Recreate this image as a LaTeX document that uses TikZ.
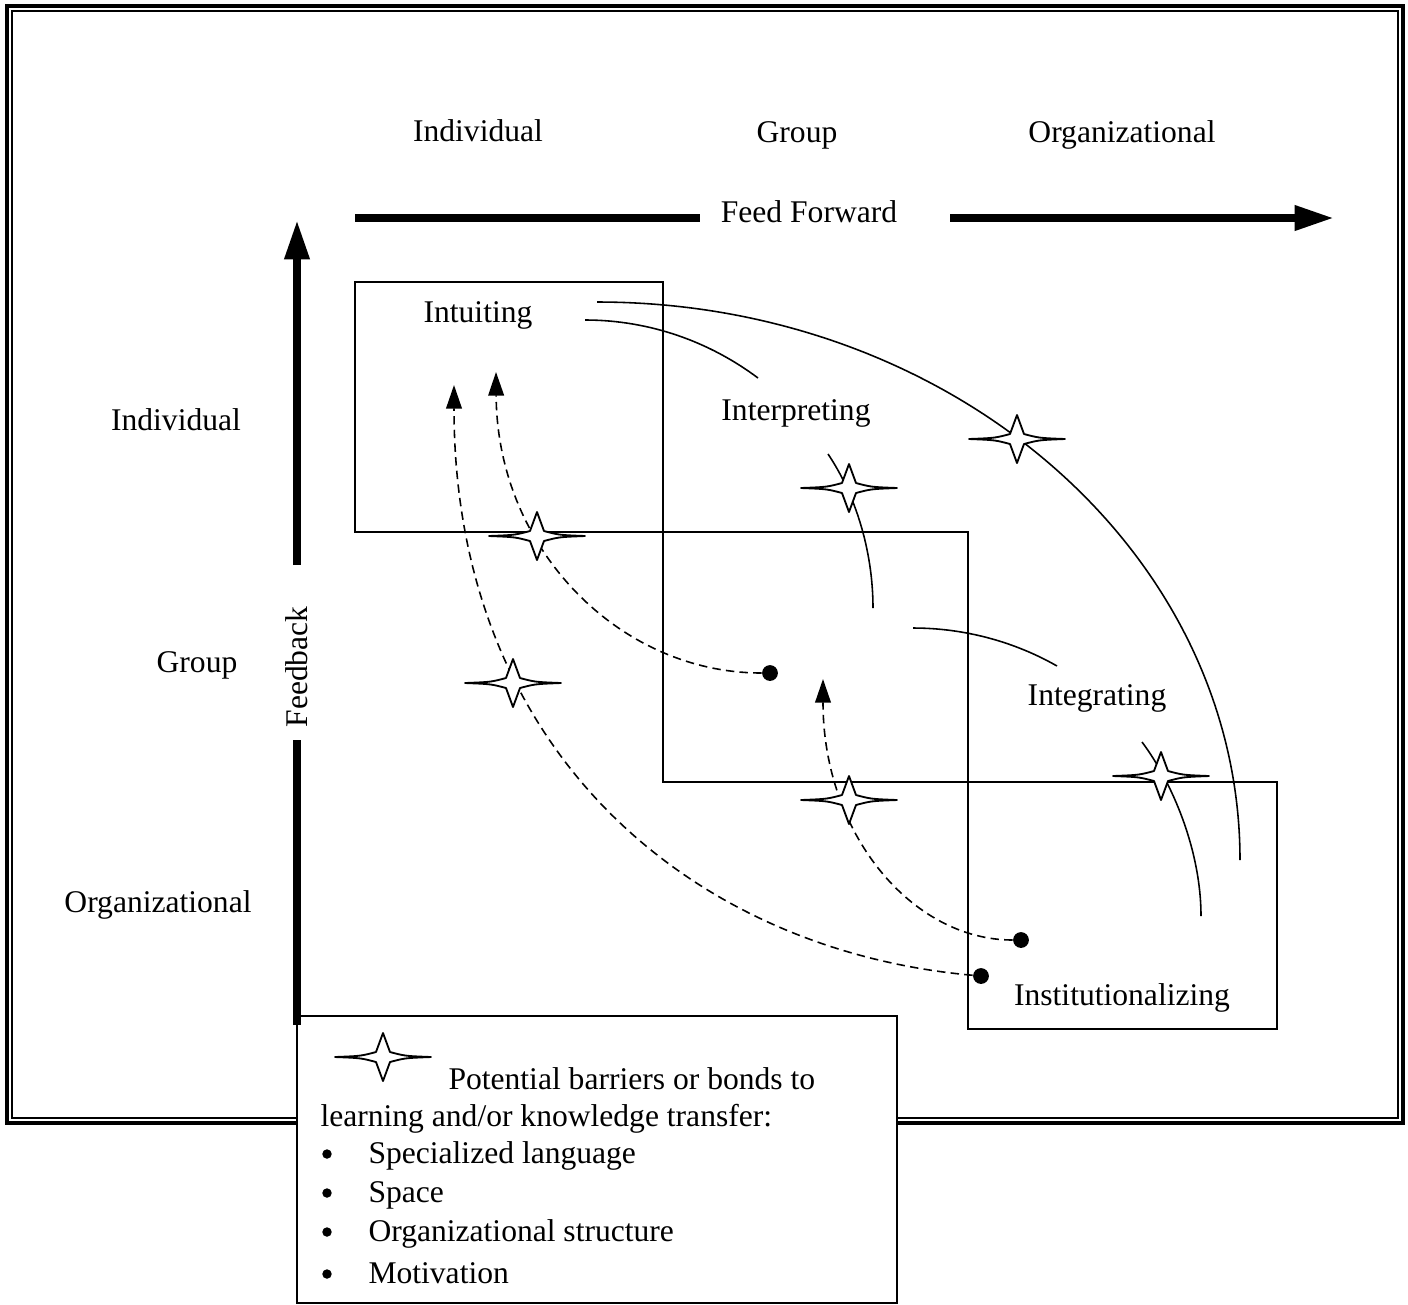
\documentclass[tikz,border=0pt]{standalone}
\usepackage{fontspec}
\setmainfont{Liberation Serif}
\usetikzlibrary{arrows.meta}

\begin{document}
\begin{tikzpicture}[x=0.38pt, y=-0.38pt, font=\fontsize{12pt}{14pt}\selectfont,
  lbl/.style={inner sep=0pt},
  box/.style={line width=0.8pt},
  flow/.style={line width=0.6pt},
  back/.style={line width=0.6pt, dash pattern=on 3.2pt off 2pt, -{Triangle[length=9pt, width=6pt]}},
  bigarrow/.style={line width=3pt},
  bigtip/.style={-{Triangle[length=15pt, width=9pt]}},
  dot/.style={circle, fill, inner sep=0pt, minimum size=6pt},
  barrier/.pic={\filldraw[fill=white, line width=0.7pt, line join=round]
    (0,-24) -- (7,-5) .. controls (22,-1) .. (48,0) .. controls (22,1) .. (7,5)
    -- (0,24) -- (-7,5) .. controls (-22,1) .. (-48,0) .. controls (-22,-1) .. (-7,-5) -- cycle;}]
  % x-coordinate = pixel column, y-coordinate = pixel row (downwards)
  \useasboundingbox (0,0) rectangle (1408,1304);
  \draw[line width=1.5pt] (7,6) rectangle (1403,1123);
  \draw[line width=0.75pt] (12,11) rectangle (1398,1118);
  \draw[box, fill=white] (297,1016) rectangle (897,1303);

  \node[lbl] (colind) at (478,131) {Individual};
  \node[lbl] (colgrp) at (797,135) {Group};
  \node[lbl] (colorg) at (1122,135) {Organizational};
  \node[lbl] (rowind) at (176,420) {Individual};
  \node[lbl] (rowgrp) at (197,665) {Group};
  \node[lbl] (roworg) at (158,905) {Organizational};

  \node[lbl] (ff) at (809,212) {Feed Forward};
  \coordinate (ffstart) at (355,218);
  \coordinate (ffl) at (700,218);
  \coordinate (ffr) at (950,218);
  \coordinate (fftip) at (1334,218);
  \draw[bigarrow] (ffstart) -- (ffl);
  \draw[bigarrow, bigtip] (ffr) -- (fftip);

  \node[lbl, rotate=90] (fb) at (297,667) {Feedback};
  \coordinate (fbend) at (297,1025);
  \coordinate (fbbot) at (297,740);
  \coordinate (fbtop) at (297,565);
  \coordinate (fbtip) at (297,220);

  \draw[box] (355,282) rectangle (663,532);
  \draw[box] (663,532) rectangle (968,782);
  \draw[box] (968,782) rectangle (1277,1029);
  \node[lbl] (intu) at (478,315) {Intuiting};
  \node[lbl] (interp) at (796,413) {Interpreting};
  \node[lbl] (integ) at (1097,698) {Integrating};
  \node[lbl] (inst) at (1122,998) {Institutionalizing};

  \coordinate (intuA) at (585,320);  \coordinate (interpA) at (758,378);
  \coordinate (intuB) at (597,302);  \coordinate (instB) at (1240,860);
  \coordinate (interpC) at (828,454); \coordinate (grpC) at (873,608);
  \coordinate (grpD) at (913,628);   \coordinate (integD) at (1057,666);
  \coordinate (integE) at (1142,742); \coordinate (instE) at (1201,916);
  \draw[flow] (intuA) .. controls (650,320) and (710,342) .. (interpA);
  \draw[flow] (intuB) .. controls (952,302) and (1240,552) .. (instB);
  \draw[flow] (interpC) .. controls (855,494) and (873,550) .. (grpC);
  \draw[flow] (grpD) .. controls (965,628) and (1015,642) .. (integD);
  \draw[flow] (integE) .. controls (1172,782) and (1201,850) .. (instE);

  \node[dot] (d1) at (770,673) {};
  \node[dot] (d2) at (1021,940) {};
  \node[dot] (d3) at (981,976) {};
  \coordinate (t1) at (454,385);
  \coordinate (t2) at (496,372);
  \coordinate (t3) at (823,679);
  \draw[back] (d3) .. controls (690,950) and (454,750) .. (t1);
  \draw[back] (d1) .. controls (619,673) and (497,549) .. (t2);
  \draw[back] (d2) .. controls (912,940) and (823,834) .. (t3);

  \foreach \x/\y in {1017/439, 849/488, 537/536, 513/683, 849/800, 1161/776, 383/1057}
    { \pic at (\x,\y) {barrier}; }

  \draw[bigarrow] (fbend) -- (fbbot);
  \draw[bigarrow, bigtip] (fbtop) -- (fbtip);

  \node[lbl, anchor=base west] (leg1) at (448,1089) {Potential barriers or bonds to};
  \node[lbl, anchor=base west] (leg2) at (320,1126) {learning and/or knowledge transfer:};
  \foreach \y/\txt [count=\i] in {1163/Specialized language, 1202/Space,
      1241/Organizational structure, 1283/Motivation}
    { \node[dot, minimum size=3.6pt] (bul\i) at (327,\y-9) {};
      \node[lbl, anchor=base west] (item\i) at (368,\y) {\txt}; }
\end{tikzpicture}
\end{document}
